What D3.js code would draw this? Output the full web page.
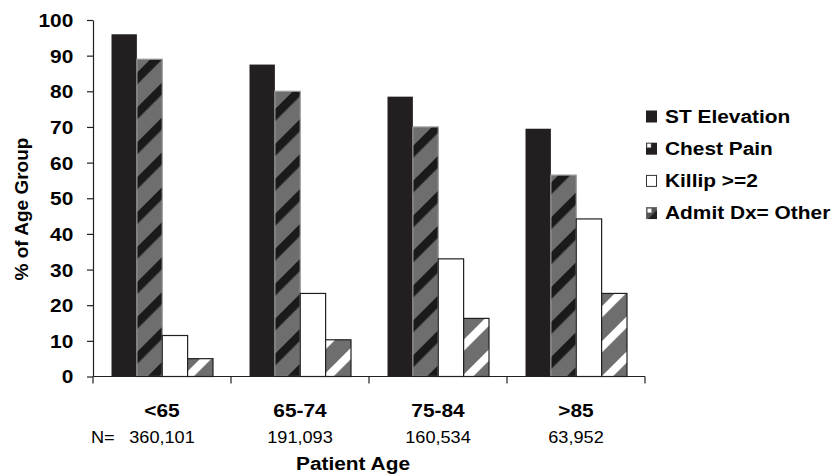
<!DOCTYPE html>
<html><head><meta charset="utf-8">
<script src="https://cdn.jsdelivr.net/npm/d3@7"></script>
<style>
html,body{margin:0;padding:0;background:#fff;}
text{font-family:"Liberation Sans",Arial,sans-serif;}
</style>
</head><body>
<svg id="c" width="836" height="474"></svg>
<script>
const categories = ["<65", "65-74", "75-84", ">85"];
const nCounts = ["360,101", "191,093", "160,534", "63,952"];
const seriesNames = ["ST Elevation", "Chest Pain", "Killip >=2", "Admit Dx= Other"];
const stElevation = [96, 87.5, 78.5, 69.5];
const chestPain = [89, 80, 70, 56.5];
const killip = [11.5, 23.3, 33, 44.2];
const admitOther = [5, 10.3, 16.3, 23.3];
const yTicks = [0, 10, 20, 30, 40, 50, 60, 70, 80, 90, 100];

const seriesValues = [stElevation, chestPain, killip, admitOther];
const SX = 1.16;
const dark = "#231f20", gray = "#6e6e6e";

const svg = d3.select("#c");
svg.append("rect").attr("width", 836).attr("height", 474).attr("fill", "#fff");

const defs = svg.append("defs");
function stripe(id, bg, fg, w) {
  const p = defs.append("pattern").attr("id", id).attr("patternUnits", "userSpaceOnUse")
    .attr("width", 24.7).attr("height", 24.7).attr("patternTransform", "rotate(45)");
  p.append("rect").attr("width", 24.7).attr("height", 24.7).attr("fill", bg);
  p.append("rect").attr("x", 0).attr("width", w).attr("height", 24.7).attr("fill", fg);
}
stripe("pCP", gray, "#1a1a1a", 8.5);
stripe("pAD", gray, "#ffffff", 8);

const y = d3.scaleLinear().domain([0, 100]).range([376.5, 20]);
const x0 = d3.scaleBand().domain(categories).range([93, 645]).padding(0);
const x1 = d3.scaleBand().domain(seriesNames).range([18.5, 120]).padding(0);

const fills = ["#231f20", "url(#pCP)", "#ffffff", "url(#pAD)"];
const strokes = ["none", "#9a9a9a", dark, dark];

// bars
const data = [];
categories.forEach((c, i) => seriesNames.forEach((s, j) => data.push({c, s, j, v: seriesValues[j][i]})));
svg.append("g").selectAll("rect").data(data).join("rect")
  .attr("x", d => x0(d.c) + x1(d.s))
  .attr("y", d => y(d.v))
  .attr("width", x1.bandwidth())
  .attr("height", d => y(0) - y(d.v))
  .attr("fill", d => fills[d.j])
  .attr("stroke", d => strokes[d.j])
  .attr("stroke-width", 1.2);

// y axis
const ya = svg.append("g").attr("transform", "translate(93,0)")
  .call(d3.axisLeft(y).tickValues(yTicks).tickSize(6).tickSizeOuter(0));
ya.select(".domain").attr("stroke", dark).attr("stroke-width", 1.2);
ya.selectAll(".tick line").attr("stroke", dark).attr("stroke-width", 1.2);
ya.selectAll(".tick text")
  .attr("x", -19.7 / SX).attr("dy", "0.36em")
  .attr("transform", `scale(${SX},1)`)
  .attr("font-size", 18).attr("font-weight", "bold").attr("fill", "#000")
  .attr("font-family", '"Liberation Sans",Arial,sans-serif');

// x axis
const bounds = categories.map(c => x0(c)).concat([x0.range()[1]]);
const xa = svg.append("g");
xa.append("line").attr("x1", x0.range()[0]).attr("x2", x0.range()[1])
  .attr("y1", y(0)).attr("y2", y(0)).attr("stroke", dark).attr("stroke-width", 1.2);
xa.selectAll("line.t").data(bounds).join("line").attr("class", "t")
  .attr("x1", d => d).attr("x2", d => d).attr("y1", y(0)).attr("y2", y(0) + 7)
  .attr("stroke", dark).attr("stroke-width", 1.2);

function stext(x, yy, str, size, weight, anchor, sx) {
  svg.append("text").attr("transform", `translate(${x},${yy}) scale(${sx},1)`)
    .attr("text-anchor", anchor).attr("font-size", size).attr("font-weight", weight)
    .attr("fill", "#000").text(str);
}
categories.forEach((c, i) => {
  const cx = x0(c) + x0.bandwidth() / 2;
  stext(cx, 416.5, c, 18, "bold", "middle", SX);
  stext(cx, 442.5, nCounts[i], 16.5, "normal", "middle", 1.1);
});
stext(91, 442.5, "N=", 16.5, "normal", "start", 1.1);
stext(353, 470, "Patient Age", 18, "bold", "middle", SX);

// y label
svg.append("text").attr("transform", "translate(28,209) rotate(-90)")
  .attr("text-anchor", "middle").attr("font-size", 19).attr("font-weight", "bold")
  .attr("fill", "#000").text("% of Age Group");

// legend
const lg = svg.append("g");
seriesNames.forEach((s, i) => {
  const by = 122.5 + i * 32.2;
  const g = lg.append("g").attr("transform", `translate(646,${by - 12})`);
  if (i === 0) {
    g.append("rect").attr("width", 11).attr("height", 12).attr("fill", dark);
  } else if (i === 1) {
    g.append("rect").attr("width", 11).attr("height", 12).attr("fill", dark);
    g.append("rect").attr("x", 1).attr("y", 1).attr("width", 4).attr("height", 4)
      .attr("fill", "#fff").attr("stroke", "#888").attr("stroke-width", 0.6);
  } else if (i === 2) {
    g.append("rect").attr("x", 0.5).attr("y", 0.5).attr("width", 10).attr("height", 11)
      .attr("fill", "#fff").attr("stroke", "#333").attr("stroke-width", 1);
  } else {
    g.append("rect").attr("x", 0.5).attr("y", 0.5).attr("width", 10).attr("height", 11)
      .attr("fill", "#555").attr("stroke", "#666").attr("stroke-width", 1);
    g.append("path").attr("d", "M11,3 L11,12 L2,12 Z").attr("fill", dark);
    g.append("rect").attr("x", 1.5).attr("y", 1.5).attr("width", 4).attr("height", 4).attr("fill", "#fff");
  }
  stext(665, by, s, 18, "bold", "start", SX);
});
</script>
</body></html>
